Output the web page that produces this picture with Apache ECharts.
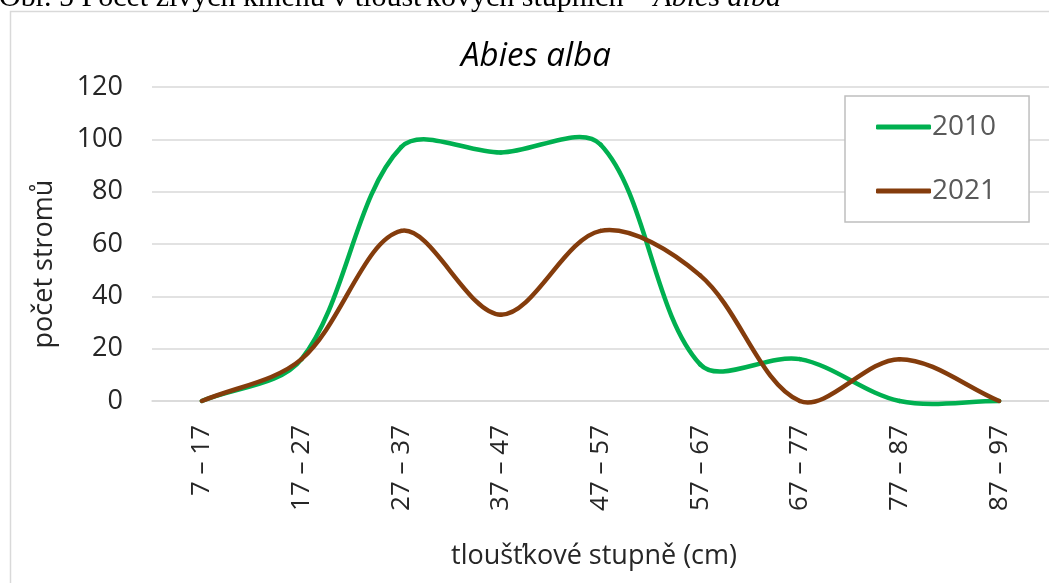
<!DOCTYPE html>
<html>
<head>
<meta charset="utf-8">
<style>
  html, body { margin: 0; padding: 0; background: #ffffff; }
  #chart { width: 1049px; height: 583px; }
</style>
<script src="https://cdn.jsdelivr.net/npm/echarts@6/dist/echarts.min.js"></script>
</head>
<body>
<div id="chart"></div>
<script>
// Diameter classes (cm) and tree counts per census year
const categories = ['7 – 17', '17 – 27', '27 – 37', '37 – 47', '47 – 57', '57 – 67', '67 – 77', '77 – 87', '87 – 97'];
const values2010 = [0, 16, 97, 95, 98, 14, 16, 0, 0];
const values2021 = [0, 16, 65, 33, 65, 48, 0, 16, 0];
const yTicks = { min: 0, max: 120, interval: 20 };

const FONT = '"Open Sans", sans-serif';
const GREEN = '#00b050';
const BROWN = '#843c0c';

// Spreadsheet-style smoothed curve: one cubic Bezier per segment, with
// control points along the neighbour chord, weighted by segment lengths.
function smoothSegment(values, color) {
  return function (params, api) {
    const i = params.dataIndex;
    if (i >= values.length - 1) return null;
    const clampIdx = k => Math.max(0, Math.min(values.length - 1, k));
    const pt = k => api.coord([clampIdx(k), values[clampIdx(k)]]);
    const p0 = pt(i - 1), p1 = pt(i), p2 = pt(i + 1), p3 = pt(i + 2);
    const dist = (a, b) => Math.hypot(b[0] - a[0], b[1] - a[1]);
    const d01 = dist(p0, p1), d12 = dist(p1, p2), d23 = dist(p2, p3);
    const f = 1 / 6;
    const s1 = d01 + d12 > 0 ? 2 * d12 / (d01 + d12) : 1;
    const s2 = d12 + d23 > 0 ? 2 * d12 / (d12 + d23) : 1;
    const c1 = [p1[0] + (p2[0] - p0[0]) * f * s1, p1[1] + (p2[1] - p0[1]) * f * s1];
    const c2 = [p2[0] - (p3[0] - p1[0]) * f * s2, p2[1] - (p3[1] - p1[1]) * f * s2];
    return {
      type: 'bezierCurve',
      shape: { x1: p1[0], y1: p1[1], x2: p2[0], y2: p2[1], cpx1: c1[0], cpy1: c1[1], cpx2: c2[0], cpy2: c2[1] },
      style: { stroke: color, lineWidth: 4.5, fill: null, lineCap: 'round' }
    };
  };
}

function curveSeries(name, values, color, z) {
  return {
    name: name,
    type: 'custom',
    coordinateSystem: 'cartesian2d',
    data: values.map((v, i) => [i, v]),
    encode: { x: 0, y: 1 },
    renderItem: smoothSegment(values, color),
    itemStyle: { color: color },
    clip: false,
    z: z
  };
}

const chart = echarts.init(document.getElementById('chart'), null, { renderer: 'canvas' });

chart.setOption({
  backgroundColor: '#ffffff',
  animation: false,
  grid: { left: 152, right: 0, top: 87, bottom: 182, containLabel: false },
  graphic: [
    {
      type: 'rect',
      silent: true,
      shape: { x: 10.5, y: 11.5, width: 1200, height: 700 },
      style: { fill: 'none', stroke: '#d9d9d9', lineWidth: 1.5 },
      z: -10
    },
    {
      type: 'text',
      silent: true,
      x: -1, y: -2,
      style: {
        text: 'Obr. 5 Počet živých kmenů v tloušťkových stupních – {i|Abies alba}',
        font: '30px "Liberation Serif", serif',
        fill: '#000000',
        verticalAlign: 'middle',
        rich: { i: { fontFamily: '"Liberation Serif", serif', fontSize: 30, fontStyle: 'italic', fill: '#000000' } }
      }
    },
    {
      type: 'text',
      silent: true,
      x: 536, y: 57,
      style: {
        text: 'Abies alba',
        font: 'italic 33px ' + FONT,
        fill: '#000000',
        textAlign: 'center',
        verticalAlign: 'middle'
      }
    },
    {
      type: 'text',
      silent: true,
      x: 44, y: 264,
      rotation: Math.PI / 2,
      style: {
        text: 'počet stromů',
        font: '27px ' + FONT,
        fill: '#262626',
        textAlign: 'center',
        verticalAlign: 'middle'
      }
    },
    {
      type: 'text',
      silent: true,
      x: 594, y: 556,
      style: {
        text: 'tloušťkové stupně (cm)',
        font: '27px ' + FONT,
        fill: '#262626',
        textAlign: 'center',
        verticalAlign: 'middle'
      }
    }
  ],
  legend: {
    orient: 'vertical',
    left: 845,
    top: 96,
    padding: [16, 33, 16, 31],
    borderColor: '#bfbfbf',
    borderWidth: 1.5,
    backgroundColor: '#ffffff',
    icon: 'roundRect',
    itemWidth: 55,
    itemHeight: 5,
    itemGap: 34,
    textStyle: { fontFamily: FONT, fontSize: 28, color: '#595959', lineHeight: 30, padding: [0, 0, 0, -4] },
    data: ['2010', '2021']
  },
  xAxis: {
    type: 'category',
    data: categories,
    boundaryGap: true,
    axisLine: { show: true, lineStyle: { color: '#d9d9d9', width: 1.5 } },
    axisTick: { show: false },
    splitLine: { show: false },
    axisLabel: {
      rotate: 90,
      margin: 24,
      interval: 0,
      fontFamily: FONT,
      fontSize: 26,
      color: '#262626'
    }
  },
  yAxis: {
    type: 'value',
    min: yTicks.min,
    max: yTicks.max,
    interval: yTicks.interval,
    axisLine: { show: false },
    axisTick: { show: false },
    splitLine: { lineStyle: { color: '#d9d9d9', width: 1.5 } },
    axisLabel: { margin: 29, fontFamily: FONT, fontSize: 27, color: '#262626' }
  },
  series: [
    curveSeries('2010', values2010, GREEN, 3),
    curveSeries('2021', values2021, BROWN, 4)
  ]
});
</script>
</body>
</html>
